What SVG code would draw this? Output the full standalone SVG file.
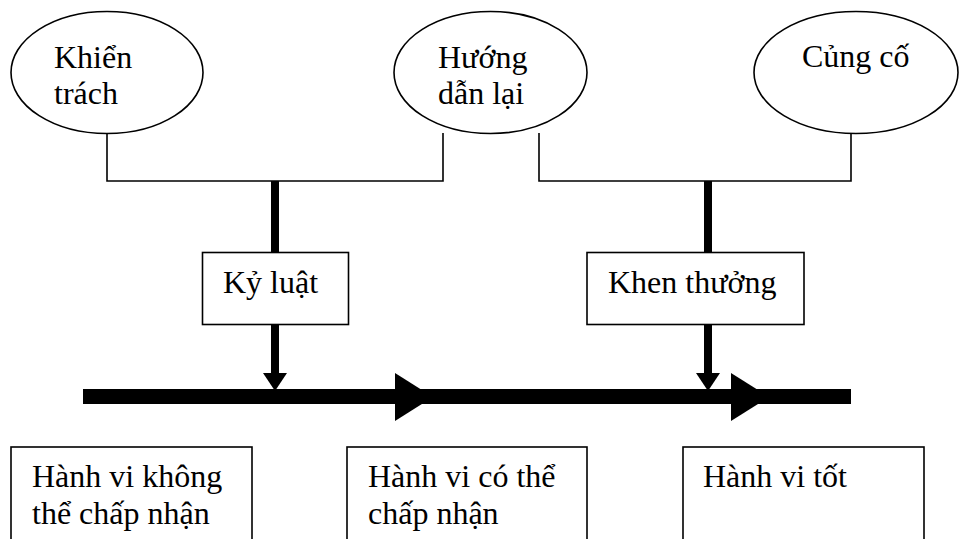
<svg xmlns="http://www.w3.org/2000/svg" width="959" height="539" viewBox="0 0 959 539">
<style>
  .shape { fill: #fff; stroke: #000; stroke-width: 1.6; }
  .t { font-family: "Liberation Serif", "Times New Roman", serif; font-size: 32px; fill: #000; }
  .thin { fill: none; stroke: #000; stroke-width: 1.6; }
  .thick { fill: none; stroke: #000; stroke-width: 8; }
  .bar { fill: none; stroke: #000; stroke-width: 15; }
  .head { fill: #000; stroke: none; }
</style>
<rect width="959" height="539" fill="#fff"/>
<g id="connectors">
  <polyline class="thin" points="107,133 107,181 443,181 443,133"/>
  <polyline class="thin" points="539,133 539,181 851,181 851,133"/>
  <line class="thick" x1="275" y1="181" x2="275" y2="252"/>
  <line class="thick" x1="708" y1="181" x2="708" y2="252"/>
  <line class="thick" x1="275" y1="325" x2="275" y2="375"/>
  <polygon class="head" points="263,373 287,373 275,391"/>
  <line class="thick" x1="708" y1="325" x2="708" y2="375"/>
  <polygon class="head" points="696,373 720,373 708,391"/>
  <line class="bar" x1="83" y1="396.5" x2="851" y2="396.5"/>
  <polygon class="head" points="395,373 433,397 395,421"/>
  <polygon class="head" points="731,373 769,397 731,421"/>
</g>
<g id="khien-trach">
  <ellipse class="shape" cx="107" cy="72.5" rx="96" ry="61"/>
  <text class="t" x="54" y="68">Khiển</text>
  <text class="t" x="54" y="104">trách</text>
</g>
<g id="huong-dan-lai">
  <ellipse class="shape" cx="490.5" cy="72.5" rx="96.5" ry="61"/>
  <text class="t" x="438" y="68">Hướng</text>
  <text class="t" x="438" y="104">dẫn lại</text>
</g>
<g id="cung-co">
  <ellipse class="shape" cx="856" cy="72.5" rx="102" ry="61"/>
  <text class="t" x="802" y="67">Củng cố</text>
</g>
<g id="ky-luat">
  <rect class="shape" x="202.5" y="252.5" width="146" height="72"/>
  <text class="t" x="223" y="293">Kỷ luật</text>
</g>
<g id="khen-thuong">
  <rect class="shape" x="587" y="252.5" width="217" height="72"/>
  <text class="t" x="608" y="293">Khen thưởng</text>
</g>
<g id="hanh-vi-khong-the">
  <rect class="shape" x="11" y="447" width="241" height="100"/>
  <text class="t" x="32" y="487">Hành vi không</text>
  <text class="t" x="32" y="524">thể chấp nhận</text>
</g>
<g id="hanh-vi-co-the">
  <rect class="shape" x="347" y="447" width="240" height="100"/>
  <text class="t" x="368" y="487">Hành vi có thể</text>
  <text class="t" x="368" y="524">chấp nhận</text>
</g>
<g id="hanh-vi-tot">
  <rect class="shape" x="683" y="447" width="241" height="100"/>
  <text class="t" x="703" y="487">Hành vi tốt</text>
</g>
</svg>
